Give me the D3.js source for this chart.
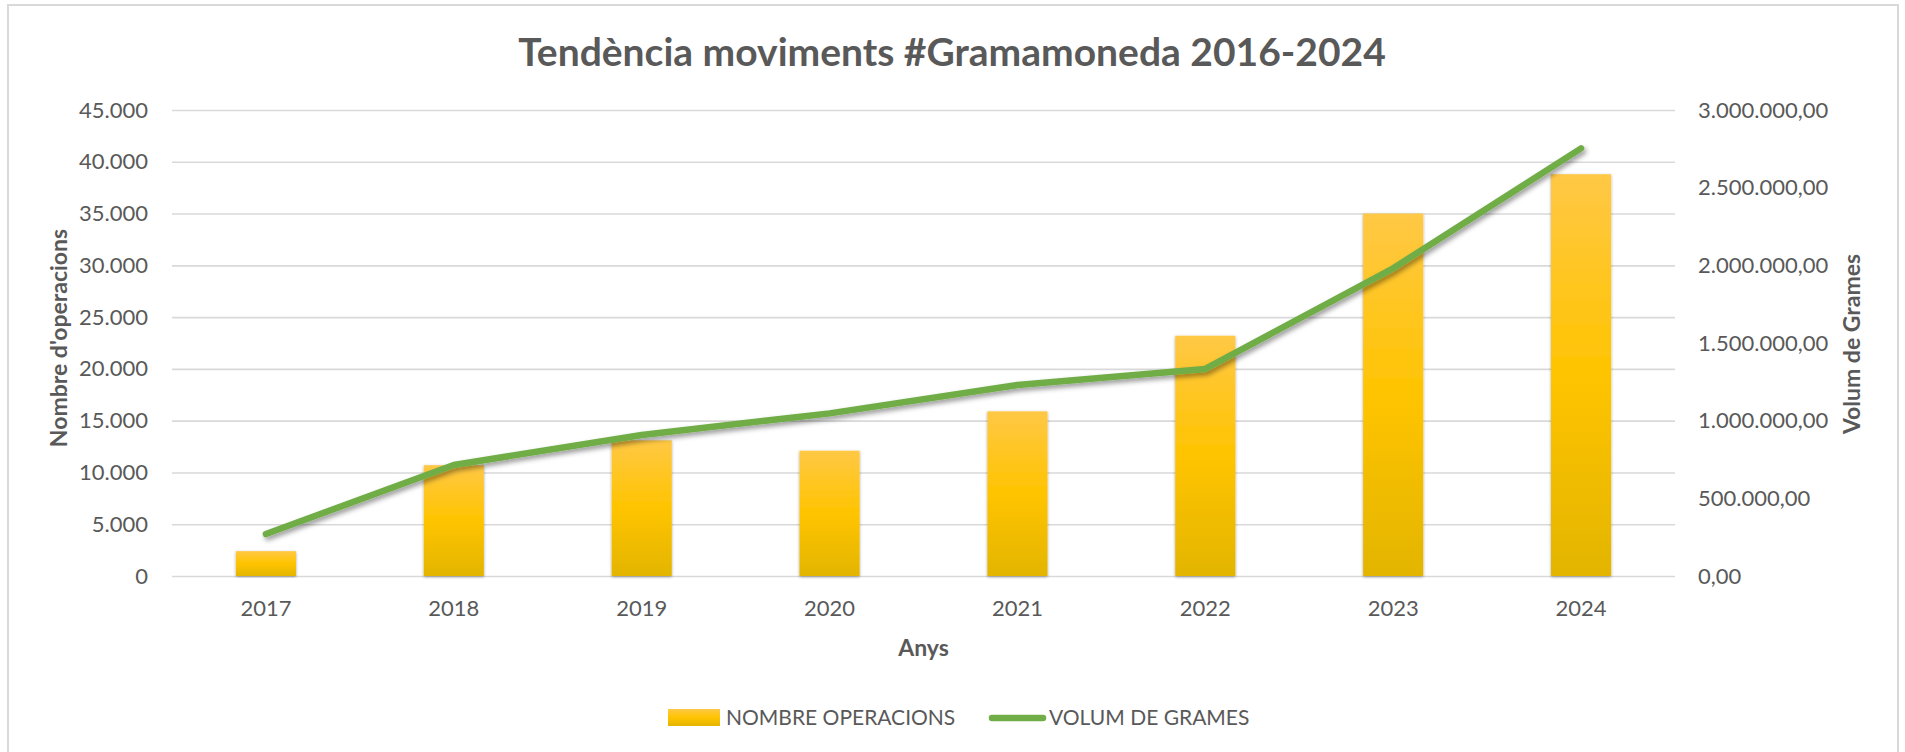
<!DOCTYPE html>
<html>
<head>
<meta charset="utf-8">
<script src="https://cdn.jsdelivr.net/npm/d3@7"></script>
<style>
  body { margin: 0; background: #fff; }
  text { font-family: Lato, "Open Sans", sans-serif; fill: #595959; }
</style>
</head>
<body>
<div id="chart"></div>
<script>
// data
const years = ['2017', '2018', '2019', '2020', '2021', '2022', '2023', '2024'];
const operacions = [2400, 10700, 13100, 12100, 15900, 23200, 35000, 38800];
const grames = [270000, 715000, 908000, 1047000, 1230000, 1333000, 1981000, 2753000];
const leftTicks = [0, 5000, 10000, 15000, 20000, 25000, 30000, 35000, 40000, 45000];
const rightTicks = [0, 500000, 1000000, 1500000, 2000000, 2500000, 3000000];

const svgWidth = 1905;
const svgHeight = 752;
const plot = { left: 172, right: 1675, top: 110, bottom: 576 };

const locale = d3.formatLocale({ decimal: ',', thousands: '.', grouping: [3], currency: ['', ' €'] });
const fmtLeft = locale.format(',.0f');
const fmtRight = locale.format(',.2f');

const svg = d3.select('#chart')
    .append('svg')
    .attr('width', svgWidth)
    .attr('height', svgHeight);

// gradient + shadows
const defs = svg.append('defs');
const grad = defs.append('linearGradient')
    .attr('id', 'barGrad')
    .attr('x1', 0).attr('y1', 0).attr('x2', 0).attr('y2', 1);
grad.append('stop').attr('offset', '0%').attr('stop-color', '#ffc845');
grad.append('stop').attr('offset', '50%').attr('stop-color', '#ffc400');
grad.append('stop').attr('offset', '100%').attr('stop-color', '#e3b500');

defs.append('filter').attr('id', 'barShadow')
    .attr('x', '-20%').attr('y', '-5%').attr('width', '140%').attr('height', '110%')
    .append('feDropShadow')
    .attr('dx', 0).attr('dy', 1).attr('stdDeviation', 1.6)
    .attr('flood-color', '#000').attr('flood-opacity', 0.35);

defs.append('filter').attr('id', 'lineShadow')
    .attr('x', '-5%').attr('y', '-10%').attr('width', '110%').attr('height', '120%')
    .append('feDropShadow')
    .attr('dx', 2).attr('dy', 3).attr('stdDeviation', 2.5)
    .attr('flood-color', '#000').attr('flood-opacity', 0.4);

// chart border
svg.append('rect')
    .attr('x', 8).attr('y', 5)
    .attr('width', 1890).attr('height', 780)
    .attr('fill', 'none')
    .attr('stroke', '#d9d9d9')
    .attr('stroke-width', 2);

// scales
const xScale = d3.scaleBand()
    .domain(years)
    .range([plot.left, plot.right])
    .paddingInner(0.68)
    .paddingOuter(0.34);

const yLeft = d3.scaleLinear()
    .domain([0, 45000])
    .range([plot.bottom, plot.top]);

const yRight = d3.scaleLinear()
    .domain([0, 3000000])
    .range([plot.bottom, plot.top]);

// left axis with gridlines
const gLeft = svg.append('g')
    .attr('transform', `translate(${plot.left},0)`)
    .call(d3.axisLeft(yLeft)
        .tickValues(leftTicks)
        .tickFormat(fmtLeft)
        .tickSize(-(plot.right - plot.left))
        .tickPadding(24));
gLeft.select('.domain').remove();
gLeft.selectAll('.tick line').attr('stroke', '#d9d9d9').attr('stroke-width', 1.6);
gLeft.selectAll('.tick text').style('font-size', '22px').style('font-family', 'Lato, sans-serif').attr('fill', '#595959');

// right axis
const gRight = svg.append('g')
    .attr('transform', `translate(${plot.right},0)`)
    .call(d3.axisRight(yRight)
        .tickValues(rightTicks)
        .tickFormat(fmtRight)
        .tickSize(0)
        .tickPadding(23));
gRight.select('.domain').remove();
gRight.selectAll('.tick text').style('font-size', '22px').style('font-family', 'Lato, sans-serif').attr('fill', '#595959');

// bottom axis
const gBottom = svg.append('g')
    .attr('transform', `translate(0,${plot.bottom})`)
    .call(d3.axisBottom(xScale).tickSize(0).tickPadding(24));
gBottom.select('.domain').remove();
gBottom.selectAll('.tick text').style('font-size', '22px').style('font-family', 'Lato, sans-serif').attr('fill', '#595959');

// bars
svg.append('g')
    .selectAll('rect')
    .data(operacions)
    .enter()
    .append('rect')
    .attr('x', (d, i) => xScale(years[i]))
    .attr('y', d => yLeft(d))
    .attr('width', xScale.bandwidth())
    .attr('height', d => plot.bottom - yLeft(d))
    .attr('fill', 'url(#barGrad)')
    .attr('filter', 'url(#barShadow)');

// line on the secondary axis
const line = d3.line()
    .x((d, i) => xScale(years[i]) + xScale.bandwidth() / 2)
    .y(d => yRight(d));

svg.append('path')
    .datum(grames)
    .attr('d', line)
    .attr('fill', 'none')
    .attr('stroke', '#70ad47')
    .attr('stroke-width', 6.5)
    .attr('stroke-linecap', 'round')
    .attr('stroke-linejoin', 'round')
    .attr('filter', 'url(#lineShadow)');

// title
svg.append('text')
    .attr('x', 952)
    .attr('y', 66)
    .attr('text-anchor', 'middle')
    .style('font-size', '39px')
    .style('font-weight', 'bold')
    .text('Tendència moviments #Gramamoneda 2016-2024');

// axis titles
svg.append('text')
    .attr('transform', 'translate(67,338) rotate(-90)')
    .attr('text-anchor', 'middle')
    .style('font-size', '23px')
    .style('font-weight', 'bold')
    .text("Nombre d'operacions");

svg.append('text')
    .attr('transform', 'translate(1860,344) rotate(-90)')
    .attr('text-anchor', 'middle')
    .style('font-size', '23px')
    .style('font-weight', 'bold')
    .text('Volum de Grames');

svg.append('text')
    .attr('x', (plot.left + plot.right) / 2)
    .attr('y', 656)
    .attr('text-anchor', 'middle')
    .style('font-size', '23px')
    .style('font-weight', 'bold')
    .text('Anys');

// legend
const legend = svg.append('g');
legend.append('rect')
    .attr('x', 668).attr('y', 709)
    .attr('width', 52).attr('height', 17)
    .attr('fill', 'url(#barGrad)');
legend.append('text')
    .attr('x', 726).attr('y', 725)
    .style('font-size', '21px')
    .text('NOMBRE OPERACIONS');
legend.append('line')
    .attr('x1', 992).attr('x2', 1043)
    .attr('y1', 718).attr('y2', 718)
    .attr('stroke', '#70ad47')
    .attr('stroke-width', 6.5)
    .attr('stroke-linecap', 'round');
legend.append('text')
    .attr('x', 1049).attr('y', 725)
    .style('font-size', '21px')
    .text('VOLUM DE GRAMES');
</script>
</body>
</html>
